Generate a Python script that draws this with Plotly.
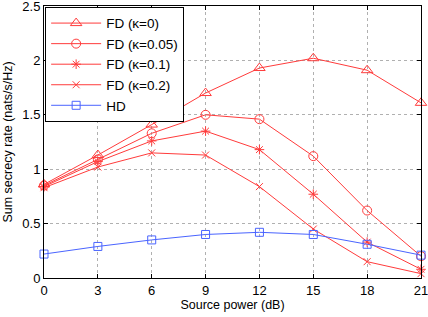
import plotly.graph_objects as go

x_db = [0, 3, 6, 9, 12, 15, 18, 21]
fd_k0 = [0.86, 1.13, 1.41, 1.70, 1.93, 2.02, 1.91, 1.61]
fd_k005 = [0.85, 1.09, 1.33, 1.50, 1.46, 1.12, 0.62, 0.20]
fd_k01 = [0.84, 1.07, 1.26, 1.35, 1.18, 0.77, 0.33, 0.08]
fd_k02 = [0.83, 1.02, 1.15, 1.13, 0.84, 0.45, 0.15, 0.04]
hd = [0.22, 0.29, 0.35, 0.40, 0.42, 0.40, 0.31, 0.21]

series_names = ["FD (κ=0)", "FD (κ=0.05)", "FD (κ=0.1)", "FD (κ=0.2)", "HD"]
x_ticks = [0, 3, 6, 9, 12, 15, 18, 21]
y_ticks = [0, 0.5, 1, 1.5, 2, 2.5]
y_tick_text = ["0", "0.5", "1", "1.5", "2", "2.5"]

red = "#ff3b3b"
blue = "#4a64ff"
styles = [
    (fd_k0, red, "triangle-up-open", 10),
    (fd_k005, red, "circle-open", 9),
    (fd_k01, red, "asterisk-open", 8),
    (fd_k02, red, "x-thin-open", 7),
    (hd, blue, "square-open", 8),
]

fig = go.Figure()
for name, (vals, col, sym, sz) in zip(series_names, styles):
    fig.add_trace(go.Scatter(
        x=x_db, y=vals, name=name, mode="lines+markers",
        line=dict(color=col, width=1),
        marker=dict(symbol=sym, size=sz, color=col, line=dict(color=col, width=1)),
        cliponaxis=False,
    ))

font_family = "Liberation Sans, Arial, sans-serif"
fig.update_layout(
    width=428, height=317,
    margin=dict(l=44, r=7, t=6, b=39, autoexpand=False),
    paper_bgcolor="white", plot_bgcolor="white",
    font=dict(family=font_family, size=12, color="black"),
    showlegend=True,
    legend=dict(x=0.003, y=0.997, xanchor="left", yanchor="top",
                bordercolor="black", borderwidth=1, bgcolor="white",
                font=dict(size=13.5), tracegroupgap=0, itemwidth=50),
)
axis_common = dict(
    showline=True, linecolor="black", linewidth=1, mirror="ticks",
    ticks="inside", ticklen=4, tickcolor="black",
    showgrid=True, gridcolor="#b0b0b0", griddash="dot", gridwidth=1,
    zeroline=False, tickfont=dict(size=13), automargin=False,
    ticklabeloverflow="allow",
)
fig.update_xaxes(range=[0, 21], tickvals=x_ticks,
                 title=dict(text="Source power (dB)", font=dict(size=12.5), standoff=0),
                 **axis_common)
fig.update_yaxes(range=[0, 2.5], tickvals=y_ticks, ticktext=y_tick_text,
                 title=dict(text="Sum secrecy rate (nats/s/Hz)", font=dict(size=12.5), standoff=6),
                 **axis_common)

fig.write_html("out.html", config={"displayModeBar": False},
               post_script="document.body.style.margin='0';")
